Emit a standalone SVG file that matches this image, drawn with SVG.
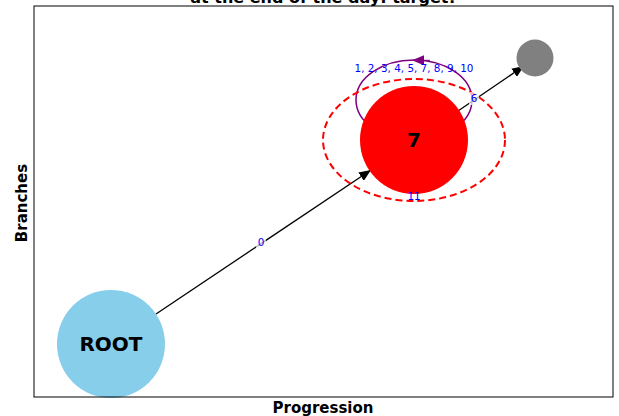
<svg xmlns="http://www.w3.org/2000/svg" width="619" height="416" viewBox="0 0 619 416">
<defs>
<style>
.lbl{font-family:"DejaVu Sans",sans-serif;font-size:10.4px;fill:#0000ff;text-anchor:middle}
.node-t{font-family:"DejaVu Sans",sans-serif;font-weight:bold;font-size:20px;fill:#000;text-anchor:middle}
.ax{font-family:"DejaVu Sans",sans-serif;font-weight:bold;font-size:15px;fill:#000;text-anchor:middle}
.edge{stroke:#000;stroke-width:1.3;fill:none}
</style>
<marker id="ah" markerWidth="12" markerHeight="10" refX="12" refY="5" orient="auto" markerUnits="userSpaceOnUse">
<path d="M0,0 L12,5 L0,10 Z" fill="#000"/>
</marker>
<marker id="ahp" markerWidth="12" markerHeight="10" refX="6" refY="5" orient="auto" markerUnits="userSpaceOnUse">
<path d="M0,0 L12,5 L0,10 Z" fill="#800080"/>
</marker>
</defs>
<rect width="619" height="416" fill="#fff"/>
<text class="ax" x="323" y="3" style="font-size:16px">at the end of the day: target!</text>
<g id="loop">
<ellipse cx="414" cy="100" rx="58" ry="40" fill="none" stroke="#800080" stroke-width="1.5"/>
<path d="M430,60.3 L418,60.3" stroke="#800080" fill="none" marker-end="url(#ahp)"/>
</g>
<g id="connectors">
<line class="edge" x1="156" y1="314" x2="371" y2="170" marker-end="url(#ah)"/>
<line class="edge" x1="458" y1="111" x2="524" y2="66" marker-end="url(#ah)"/>
</g>
<g id="node-root">
<circle cx="111" cy="344" r="54" fill="#87ceeb"/>
<text class="node-t" x="111" y="351">ROOT</text>
</g>
<g id="node-7">
<circle cx="414" cy="140" r="54" fill="#ff0000"/>
<text class="node-t" x="414" y="147">7</text>
<ellipse cx="414" cy="140" rx="91" ry="61" fill="none" stroke="#ff0000" stroke-width="2" stroke-dasharray="7,4"/>
</g>
<g id="node-target">
<circle cx="535" cy="58" r="18.5" fill="#808080"/>
</g>
<g id="labels">
<rect x="256" y="236" width="10" height="13" fill="#fff" fill-opacity="0.7"/>
<text class="lbl" x="261" y="246">0</text>
<rect x="469" y="92" width="10" height="13" fill="#fff" fill-opacity="0.7"/>
<text class="lbl" x="474" y="102">6</text>
<text class="lbl" x="414" y="200">11</text>
<text class="lbl" x="414" y="72">1, 2, 3, 4, 5, 7, 8, 9, 10</text>
</g>
<rect x="34" y="6" width="579" height="391" fill="none" stroke="#000" stroke-width="1"/>
<text class="ax" x="323" y="413">Progression</text>
<text class="ax" transform="translate(27,203) rotate(-90)">Branches</text>
</svg>
